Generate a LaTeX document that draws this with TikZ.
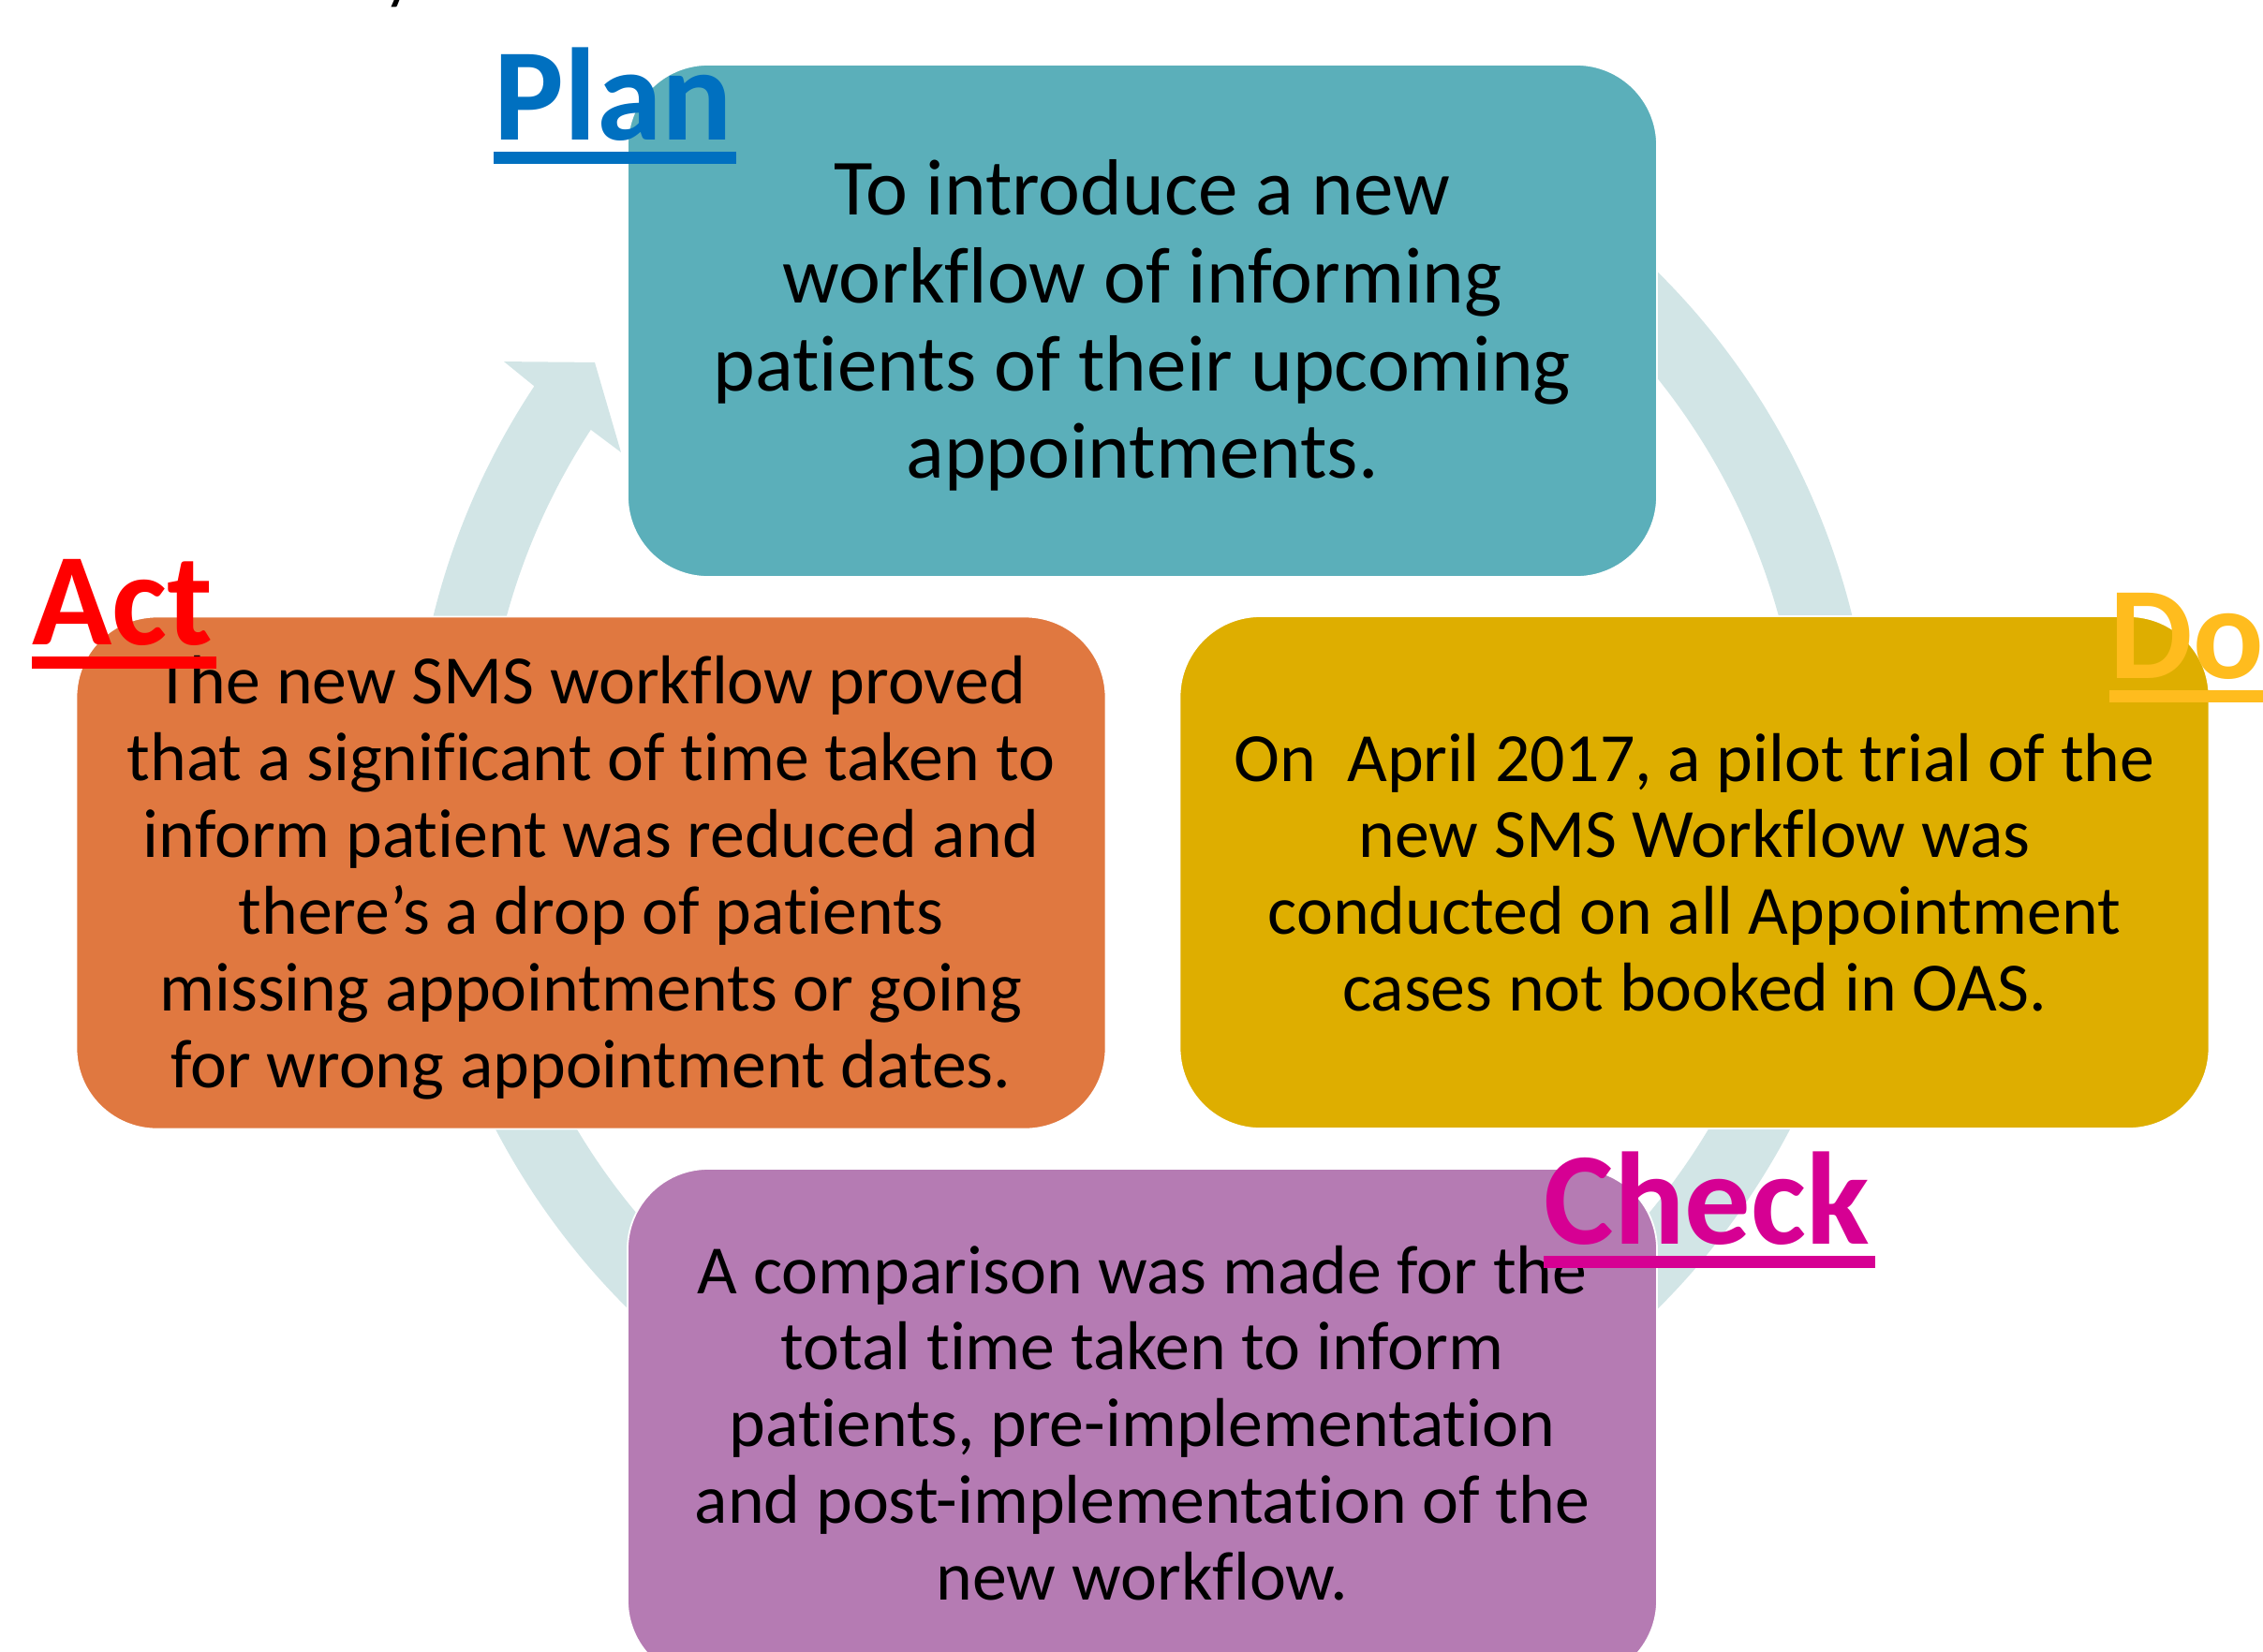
\documentclass[tikz,border=0pt]{standalone}
\usepackage{fontspec}
\setmainfont{Carlito}[Ligatures=NoCommon]
\definecolor{ringcol}{RGB}{210,229,230}
\definecolor{plancol}{RGB}{91,175,186}
\definecolor{actcol}{RGB}{224,120,64}
\definecolor{docol}{RGB}{222,174,0}
\definecolor{checkcol}{RGB}{181,123,179}
\definecolor{planlbl}{RGB}{0,112,192}
\definecolor{actlbl}{RGB}{255,0,0}
\definecolor{dolbl}{RGB}{255,188,30}
\definecolor{checklbl}{RGB}{214,0,147}
\begin{document}
\begin{tikzpicture}[
  box/.style={draw=white, line width=0.5pt, rounded corners=0.86cm,
    minimum width=10.99cm, minimum height=5.47cm, inner sep=0pt},
  boxtext/.style={align=center, text=black, inner sep=0pt},
  bodytext/.style={boxtext, font=\fontsize{21}{23.3}\selectfont},
  bigtext/.style={boxtext, font=\fontsize{24.2}{26.7}\selectfont},
  lbl/.style={font=\fontsize{40}{48}\selectfont\bfseries, inner sep=0pt, anchor=base west},
]
\useasboundingbox (0,0) rectangle (24.16,-17.63);
\clip (0,0) rectangle (24.16,-17.63);

% descender of a heading line above the frame
\node[font=\fontsize{20}{24}\selectfont, anchor=base west, inner sep=0pt] (frag) at (4.10,0.04) {y};

% cycle band with its arrowhead
\begin{scope}[shift={(12.20,-8.44)}]
  \fill[ringcol] (58:7.80) arc[start angle=58, end angle=-213.6, radius=7.80]
    -- (-213.88:8.215) -- (-218:7.424) -- (-212.95:6.638) -- (-213.17:7.04)
    arc[start angle=-213.17, end angle=58, radius=7.04] -- cycle;
\end{scope}

% the four stages
\node[box, fill=plancol] (plan) at (12.195,-3.425) {};
\node[bigtext] (plantext) at ([yshift=-0.05cm]plan.center)
  {To introduce a new\\workflow of informing\\patients of their upcoming\\appointments.};

\node[box, fill=actcol] (act) at (6.31,-9.32) {};
\node[bodytext] (acttext) at ([yshift=-0.05cm]act.center)
  {The new SMS workflow proved\\that a significant of time taken to\\inform patient was reduced and\\there’s a drop of patients\\missing appointments or going\\for wrong appointment dates.};

\node[box, fill=docol] (do) at (18.09,-9.315) {};
\node[bodytext] (dotext) at (do.center)
  {On\ \ April 2017, a pilot trial of the\\new SMS Workflow was\\conducted on all Appointment\\cases not booked in OAS.};

\node[box, fill=checkcol] (check) at (12.195,-15.215) {};
\node[bodytext] (checktext) at ([yshift=0.02cm]check.center)
  {A comparison was made for the\\total time taken to inform\\patients, pre-implementation\\and post-implementation of the\\new workflow.};

% stage titles, underlined
\node[lbl, text=planlbl] (planlabel) at (5.27,-1.49) {Plan};
\fill[planlbl] ([yshift=-0.13cm]planlabel.base west) rectangle ([xshift=0.03cm,yshift=-0.255cm]planlabel.base east);

\node[lbl, text=actlbl] (actlabel) at (0.34,-6.88) {Act};
\fill[actlbl] ([yshift=-0.13cm]actlabel.base west) rectangle ([xshift=0.03cm,yshift=-0.255cm]actlabel.base east);

\node[lbl, text=dolbl] (dolabel) at (22.52,-7.24) {Do};
\fill[dolbl] ([yshift=-0.13cm]dolabel.base west) rectangle ([xshift=0.03cm,yshift=-0.255cm]dolabel.base east);

\node[lbl, text=checklbl] (checklabel) at (16.48,-13.28) {Check};
\fill[checklbl] ([yshift=-0.13cm]checklabel.base west) rectangle ([xshift=0.06cm,yshift=-0.255cm]checklabel.base east);
\end{tikzpicture}
\end{document}
